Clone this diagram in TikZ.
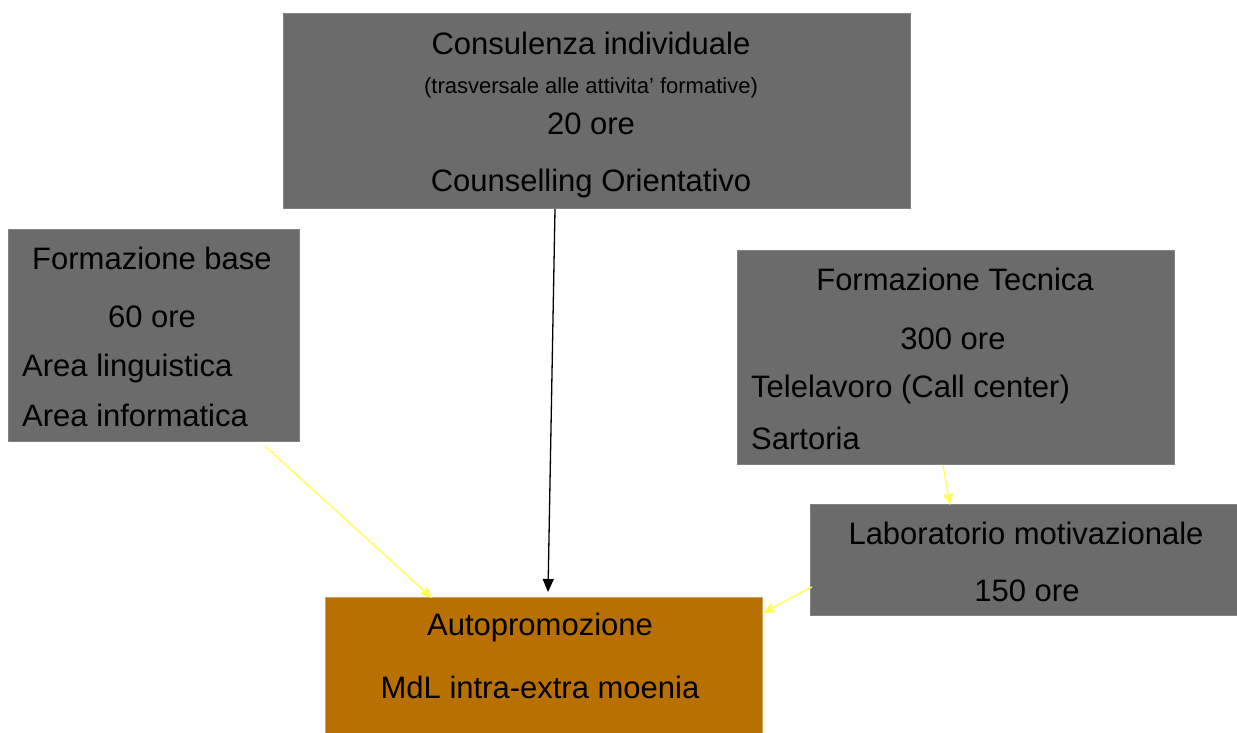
\documentclass[tikz,border=0pt]{standalone}
\usepackage{fontspec}
\setmainfont{Liberation Sans}
\usetikzlibrary{arrows.meta,calc}
\definecolor{boxgray}{RGB}{107,107,107}
\definecolor{boxedge}{RGB}{130,130,130}
\definecolor{autoorange}{RGB}{184,112,0}
\definecolor{autoedge}{RGB}{205,160,100}
\definecolor{arrowyellow}{RGB}{255,255,90}
\tikzset{
  graybox/.style={fill=boxgray,draw=boxedge,line width=1pt,inner sep=0pt,anchor=north west},
  orangebox/.style={fill=autoorange,draw=autoedge,line width=1pt,inner sep=0pt,anchor=north west},
  big/.style={font=\fontsize{31}{36}\selectfont,inner sep=0pt,text=black},
  small/.style={font=\fontsize{22}{26}\selectfont,inner sep=0pt,text=black},
  yarrow/.style={draw=arrowyellow,line width=1.4pt,-{Triangle[length=11pt,width=10pt]}},
  karrow/.style={draw=black,line width=1.3pt,-{Triangle[length=13pt,width=11pt]}}
}
\begin{document}
\begin{tikzpicture}[x=1pt,y=-1pt]
\useasboundingbox (0,0) rectangle (1237,733);
% boxes
\node[graybox,minimum width=627pt,minimum height=195pt] (cons) at (283,13) {};
\node[graybox,minimum width=291pt,minimum height=212pt] (base) at (8,229) {};
\node[graybox,minimum width=437pt,minimum height=214pt] (tec) at (737,250) {};
\node[graybox,minimum width=427pt,minimum height=111pt] (lab) at (810,504) {};
\node[orangebox,minimum width=437pt,minimum height=140pt] (auto) at (325,597) {};
% texts top
\node[big] (t1) at (591,43) {Consulenza individuale};
\node[small] (t2) at (591,88) {(trasversale alle attivita’ formative)};
\node[big] (t3) at (591,124) {20 ore};
\node[big] (t4) at (591,183) {Counselling Orientativo};
% left
\node[big] (b1) at (152,258) {Formazione base};
\node[big] (b2) at (152,317) {60 ore};
\node[big,anchor=west] (b3) at (22,368) {Area linguistica};
\node[big,anchor=west] (b4) at (22,415) {Area informatica};
% right
\node[big] (r1) at (955,279) {Formazione Tecnica};
\node[big] (r2) at (953,339) {300 ore};
\node[big,anchor=west] (r3) at (751,389) {Telelavoro (Call center)};
\node[big,anchor=west] (r4) at (751,438) {Sartoria};
% lab
\node[big] (l1) at (1026,533) {Laboratorio motivazionale};
\node[big] (l2) at (1027,591) {150 ore};
% auto
\node[big] (a1) at (540,627) {Autopromozione};
\node[big] (a2) at (540,687) {MdL intra-extra moenia};
% connectors
\draw[karrow] ($(cons.south west)+(272,0)$) -- ($(auto.north west)+(223,-5)$);
\draw[yarrow] ($(base.south west)+(257,4)$) -- ($(auto.north west)+(107,1)$);
\draw[yarrow] ($(tec.south west)+(206,0)$) -- ($(lab.north west)+(140,1)$);
\draw[yarrow] ($(lab.north west)+(2,83)$) -- ($(auto.north east)+(0,16)$);
\end{tikzpicture}
\end{document}
